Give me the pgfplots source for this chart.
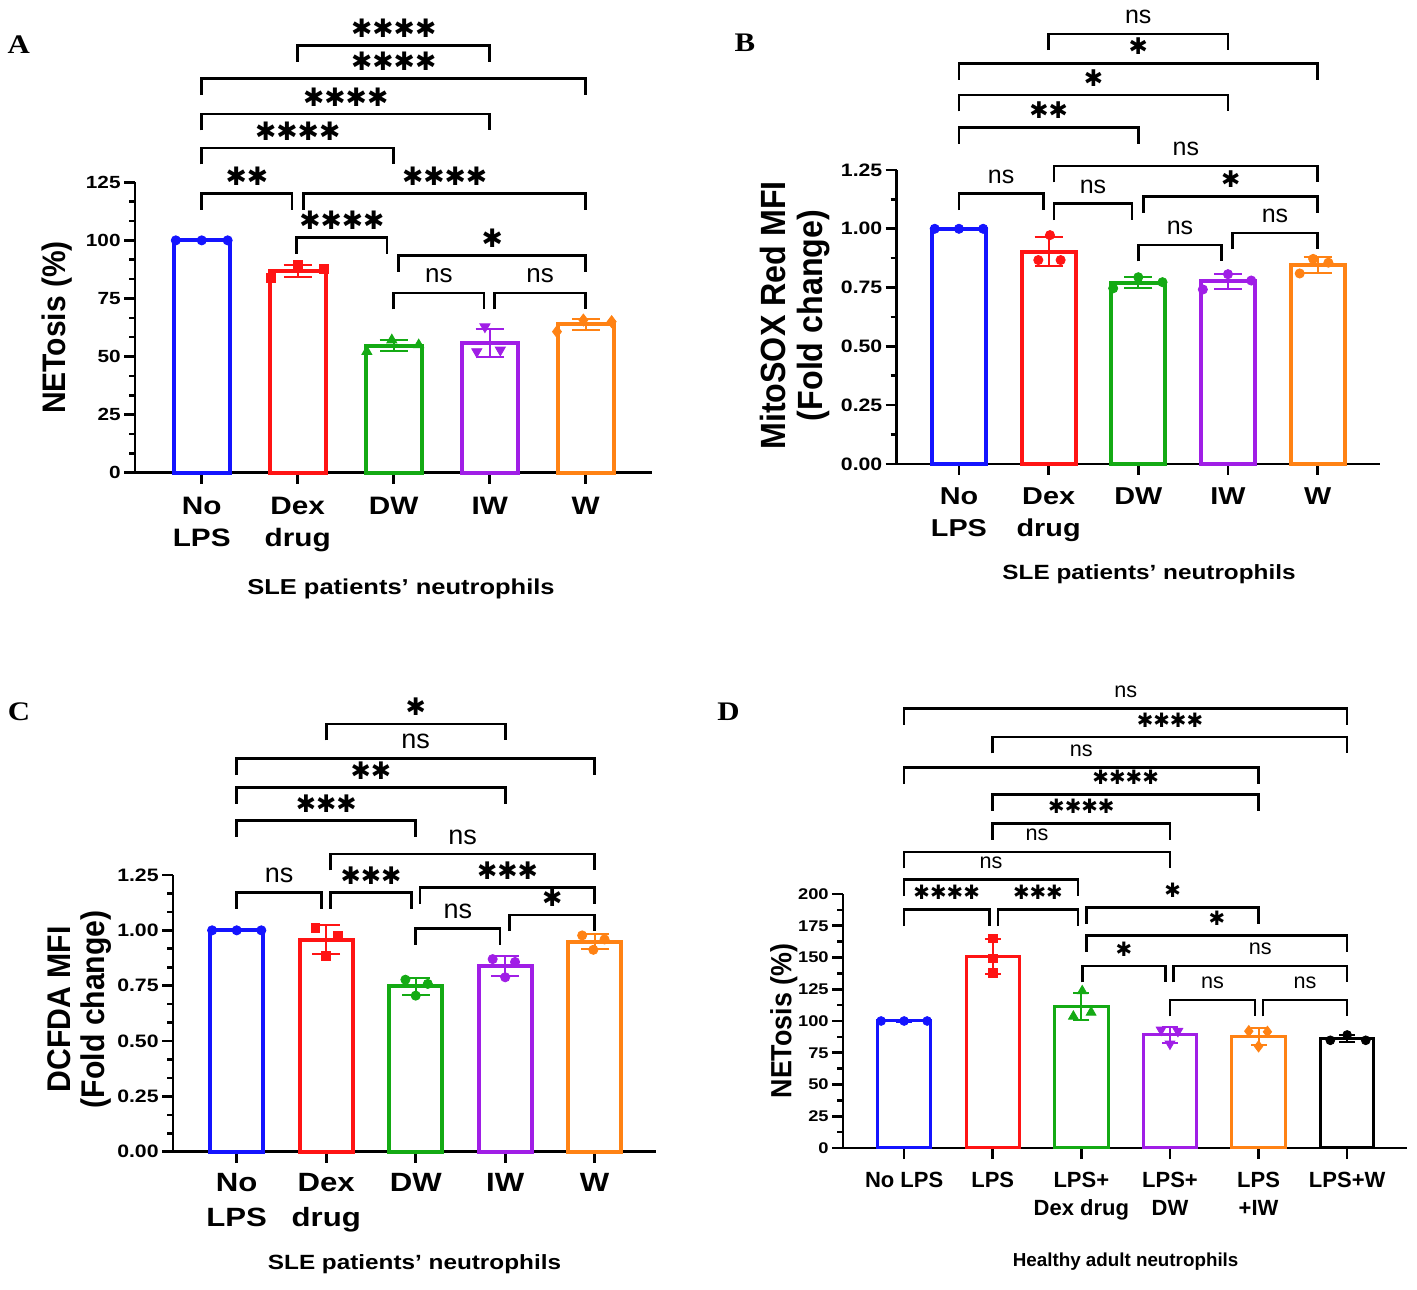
\documentclass[border=0pt]{standalone}
\usepackage{pgfplots}
\pgfplotsset{compat=1.18}
\usetikzlibrary{calc}
\usepackage{fontspec}
\setmainfont{Liberation Sans}[FakeStretch=1.18]
\newfontfamily\nsfont{Liberation Sans}
\newfontfamily\dfont{Liberation Sans}
\newfontfamily\rotfont{Liberation Sans}[FakeStretch=0.92]
\newfontfamily\letterfont{Liberation Serif}[FakeStretch=1.15]
\newfontfamily\starfont{DejaVu Sans}
\definecolor{cblue}{RGB}{20,20,255}
\definecolor{cred}{RGB}{255,20,20}
\definecolor{cgreen}{RGB}{20,170,20}
\definecolor{cpurple}{RGB}{160,30,230}
\definecolor{corange}{RGB}{255,130,20}

\newcommand\st[1]{{\starfont\fontsize{\starsize}{\starsize}\selectfont #1}}
\newcommand\nsx{{\nsfont\fontsize{\nssize}{\nssize}\selectfont ns}}
\newcommand\leg{8.2pt}
\newcommand\br[4]{%
  \draw[line width=1.3pt] ([yshift=-\leg]axis cs:#1,#3) -- (axis cs:#1,#3) -- (axis cs:#2,#3) -- ([yshift=-\leg]axis cs:#2,#3);
  \node[anchor=center, inner sep=0pt, yshift=8.5pt] at ($(axis cs:#1,#3)!0.5!(axis cs:#2,#3)$) {#4};}
\newcommand\grp[6]{%
  \addplot[ybar, bar shift=0pt, bar width=\bw, draw=#4, fill=white, line width=\blw, forget plot,
    error bars/.cd, y dir=both, y explicit,
    error bar style={line width=1pt, draw=#4, solid},
    error mark options={rotate=90, line width=1pt, mark size=\ems, draw=#4}]
    coordinates {(#1,#2) +- (0,#3)};
  \addplot[only marks, color=#4, fill=#4, #5, forget plot] coordinates {#6};}

\pgfplotsset{
  base/.style={scale only axis, clip=false,
    axis x line*=bottom, axis y line*=left,
    axis line style={line width=1.4pt, black},
    tick align=outside, major tick length=5.5pt, minor tick length=3pt,
    tick style={line width=1.3pt, black},
    xticklabel style={align=center, anchor=north, inner sep=0pt},
    yticklabel style={anchor=east, inner sep=0pt, xshift=-1.5pt},
    ylabel style={anchor=center, align=center},
    xlabel style={anchor=center},
    xtick={0,1,2,3,4}, ymin=0}
}

\begin{document}
\begin{tikzpicture}
\path[use as bounding box] (0,0) rectangle (708.5pt,644.5pt);
\node at (9.4pt,622.3pt) {\letterfont\bfseries\fontsize{13.4}{14}\selectfont A};
\node at (372.5pt,623.35pt) {\letterfont\bfseries\fontsize{13.4}{14}\selectfont B};
\node at (9.5pt,288.6pt) {\letterfont\bfseries\fontsize{13.4}{14}\selectfont C};
\node at (364.25pt,288.85pt) {\letterfont\bfseries\fontsize{13.4}{14}\selectfont D};

% ---------------- A ----------------
\def\starsize{12.7}\def\nssize{13}\def\bw{28pt}\def\blw{2pt}\def\ems{7pt}
\begin{axis}[base, at={(67.5pt,408.15pt)}, anchor=south west,
  width=258.25pt, height=145.2pt, xmin=-0.695, xmax=4.685, ymax=125,
  ytick={0,25,50,75,100,125}, yticklabels={0,25,50,75,100,125}, minor y tick num=2,
  xticklabels={{No\\LPS},{Dex\\drug},DW,IW,W},
  xticklabel style={font=\bfseries\fontsize{12.6}{16}\selectfont, yshift=-6.4pt},
  yticklabel style={font=\bfseries\fontsize{8.8}{10}\selectfont},
  ylabel={NETosis (\%)},
  ylabel style={at={(axis description cs:-0.151,0.5)}, font=\rotfont\bfseries\fontsize{16.3}{18}\selectfont},
  xlabel={SLE patients' neutrophils},
  xlabel style={at={(axis description cs:0.515,-0.401)}, font=\bfseries\fontsize{10.8}{12}\selectfont}]
\grp{0}{100}{0.3}{cblue}{mark=*, mark size=2.3pt}{(-0.27,100) (0,100) (0.27,100)}
\grp{1}{86.9}{2.5}{cred}{mark=square*, mark size=2.2pt}{(0.72,83.7) (1,89.3) (1.27,87.6)}
\grp{2}{54.7}{2.5}{cgreen}{mark=triangle*, mark size=2.9pt}{(1.72,52.1) (1.98,57.1) (2.26,55)}
\grp{3}{55.9}{6}{cpurple}{mark=triangle*, mark size=2.9pt, mark options={rotate=180}}{(2.95,62.8) (2.865,52.1) (3.11,52.8)}
\grp{4}{63.8}{2.4}{corange}{mark=diamond*, mark size=3pt}{(3.70,60.7) (3.975,65.7) (4.27,65)}
\br{0}{0.94}{120.2}{\st{✱✱}}
\br{1.06}{4}{120.2}{\st{✱✱✱✱}}
\br{0.99}{1.93}{101.2}{\st{✱✱✱✱}}
\br{2.05}{4}{93.5}{\st{✱}}
\br{2}{2.94}{77.4}{\nsx}
\br{3.05}{4}{77.4}{\nsx}
\br{0}{2}{139.8}{\st{✱✱✱✱}}
\br{0}{3}{154.4}{\st{✱✱✱✱}}
\br{0}{4}{169.6}{\st{✱✱✱✱}}
\br{1}{3}{184}{\st{✱✱✱✱}}
\end{axis}

% ---------------- B ----------------
\def\starsize{11.5}\def\nssize{12.5}\def\bw{27pt}\def\blw{2pt}\def\ems{7pt}
\begin{axis}[base, at={(448.35pt,412.5pt)}, anchor=south west,
  width=241.4pt, height=147pt, xmin=-0.694, xmax=4.69, ymax=1.25,
  ytick={0,0.25,0.5,0.75,1,1.25}, yticklabels={0.00,0.25,0.50,0.75,1.00,1.25}, minor y tick num=1,
  xticklabels={{No\\LPS},{Dex\\drug},DW,IW,W},
  xticklabel style={font=\bfseries\fontsize{12.2}{16}\selectfont, yshift=-6.4pt},
  yticklabel style={font=\bfseries\fontsize{9}{10}\selectfont},
  ylabel={MitoSOX Red MFI\\(Fold change)},
  ylabel style={at={(axis description cs:-0.2096,0.505)}, font=\rotfont\bfseries\fontsize{17.5}{18.5}\selectfont},
  xlabel={SLE patients' neutrophils},
  xlabel style={at={(axis description cs:0.5226,-0.376)}, font=\bfseries\fontsize{10.3}{12}\selectfont}]
\grp{0}{1}{0.003}{cblue}{mark=*, mark size=2.3pt}{(-0.27,1) (0,1) (0.27,1)}
\grp{1}{0.902}{0.061}{cred}{mark=*, mark size=2.3pt}{(0.885,0.867) (1.015,0.973) (1.134,0.867)}
\grp{2}{0.771}{0.024}{cgreen}{mark=*, mark size=2.3pt}{(1.72,0.747) (2,0.794) (2.27,0.773)}
\grp{3}{0.776}{0.033}{cpurple}{mark=*, mark size=2.3pt}{(2.72,0.742) (3,0.807) (3.26,0.780)}
\grp{4}{0.846}{0.032}{corange}{mark=*, mark size=2.3pt}{(3.8,0.81) (3.95,0.872) (4.12,0.856)}
\br{0}{0.94}{1.149}{\nsx}
\br{1.06}{1.93}{1.107}{\nsx}
\br{1.06}{4}{1.267}{\nsx}
\br{2.06}{4}{1.138}{\st{✱}}
\br{2}{2.93}{0.931}{\nsx}
\br{3.05}{4}{0.982}{\nsx}
\br{0}{2}{1.431}{\st{✱✱}}
\br{0}{3}{1.569}{\st{✱}}
\br{0}{4}{1.703}{\st{✱}}
\br{1}{3}{1.829}{\nsx}
\end{axis}

% ---------------- C ----------------
\def\starsize{12.1}\def\nssize{13.5}\def\bw{26.5pt}\def\blw{2pt}\def\ems{7pt}
\begin{axis}[base, at={(86.5pt,68.65pt)}, anchor=south west,
  width=241.5pt, height=138.35pt, xmin=-0.712, xmax=4.685, ymax=1.25,
  ytick={0,0.25,0.5,0.75,1,1.25}, yticklabels={0.00,0.25,0.50,0.75,1.00,1.25}, minor y tick num=2,
  xticklabels={{No\\LPS},{Dex\\drug},DW,IW,W},
  xticklabel style={font=\bfseries\fontsize{13.2}{17.5}\selectfont, yshift=-5pt},
  yticklabel style={font=\bfseries\fontsize{9}{10}\selectfont},
  ylabel={DCFDA MFI\\(Fold change)},
  ylabel style={at={(axis description cs:-0.193,0.515)}, font=\rotfont\bfseries\fontsize{16.4}{17}\selectfont},
  xlabel={SLE patients' neutrophils},
  xlabel style={at={(axis description cs:0.50,-0.406)}, font=\bfseries\fontsize{10.3}{12}\selectfont}]
\grp{0}{1}{0.003}{cblue}{mark=*, mark size=2.3pt}{(-0.275,1) (0,1) (0.275,1)}
\grp{1}{0.957}{0.065}{cred}{mark=square*, mark size=2.2pt}{(0.88,1.012) (1.13,0.975) (1,0.885)}
\grp{2}{0.747}{0.037}{cgreen}{mark=*, mark size=2.3pt}{(1.885,0.777) (2.135,0.758) (2,0.705)}
\grp{3}{0.838}{0.044}{cpurple}{mark=*, mark size=2.3pt}{(2.86,0.870) (3.11,0.857) (3,0.788)}
\grp{4}{0.949}{0.033}{corange}{mark=*, mark size=2.3pt}{(3.86,0.977) (4.11,0.959) (3.985,0.912)}
\br{0}{0.95}{1.172}{\nsx}
\br{1.05}{1.95}{1.172}{\st{✱✱✱}}
\br{1.05}{4}{1.345}{\nsx}
\br{2.05}{4}{1.193}{\st{✱✱✱}}
\br{2}{2.94}{1.009}{\nsx}
\br{3.05}{4}{1.070}{\st{✱}}
\br{0}{2}{1.497}{\st{✱✱✱}}
\br{0}{3}{1.645}{\st{✱✱}}
\br{0}{4}{1.775}{\nsx}
\br{1}{3}{1.932}{\st{✱}}
\end{axis}

% ---------------- D ----------------
\def\starsize{9.9}\def\nssize{10.8}\def\bw{26.75pt}\def\blw{1.5pt}\def\ems{4pt}
\begin{axis}[base, at={(421.5pt,70.5pt)}, anchor=south west,
  width=281.75pt, height=127pt, xmin=-0.69, xmax=5.67, ymax=200,
  xtick={0,1,2,3,4,5},
  ytick={0,25,...,200}, yticklabels={0,25,50,75,100,125,150,175,200}, minor y tick num=1,
  xticklabels={No LPS,LPS,{LPS+\\Dex drug},{LPS+\\DW},{LPS\\+IW},LPS+W},
  xticklabel style={font=\dfont\bfseries\fontsize{11}{14}\selectfont, yshift=-6.3pt},
  yticklabel style={font=\bfseries\fontsize{7.75}{9}\selectfont},
  ylabel={NETosis (\%)},
  ylabel style={at={(axis description cs:-0.105,0.5)}, font=\rotfont\bfseries\fontsize{14.6}{16}\selectfont},
  xlabel={Healthy adult neutrophils},
  xlabel style={at={(axis description cs:0.5015,-0.446)}, font=\dfont\bfseries\fontsize{9.4}{11}\selectfont}]
\grp{0}{100}{0.4}{cblue}{mark=*, mark size=2.2pt}{(-0.26,100) (0,100) (0.26,100)}
\grp{1}{150.8}{13.6}{cred}{mark=square*, mark size=2.1pt}{(1,165.1) (1,149.4) (1,138)}
\grp{2}{111.3}{10.7}{cgreen}{mark=triangle*, mark size=2.8pt}{(2.01,123.6) (1.91,103.6) (2.11,106.8)}
\grp{3}{89}{6}{cpurple}{mark=triangle*, mark size=2.8pt, mark options={rotate=180}}{(2.9,93) (3.09,92) (3,82)}
\grp{4}{87.8}{6.7}{corange}{mark=diamond*, mark size=2.8pt}{(3.89,92) (4.1,91.5) (4,80)}
\grp{5}{86.2}{2.4}{black}{mark=*, mark size=2.2pt}{(4.81,84.8) (5,89) (5.21,84.8)}
\br{0}{5}{346}{\nsx}
\br{1}{5}{323.6}{\st{✱✱✱✱}}
\br{0}{4}{299.4}{\nsx}
\br{1}{4}{278.3}{\st{✱✱✱✱}}
\br{1}{3}{255.7}{\st{✱✱✱✱}}
\br{0}{3}{233}{\nsx}
\br{0}{1.96}{211.3}{\nsx}
\br{0}{0.96}{187.7}{\st{✱✱✱✱}}
\br{1.06}{1.96}{187.7}{\st{✱✱✱}}
\br{2.06}{4}{189.3}{\st{✱}}
\br{2.06}{5}{167.3}{\st{✱}}
\br{2.01}{2.95}{143.4}{\st{✱}}
\br{3.04}{5}{143.4}{\nsx}
\br{3}{3.96}{116.5}{\nsx}
\br{4.05}{5}{116.5}{\nsx}
\end{axis}
\end{tikzpicture}
\end{document}
